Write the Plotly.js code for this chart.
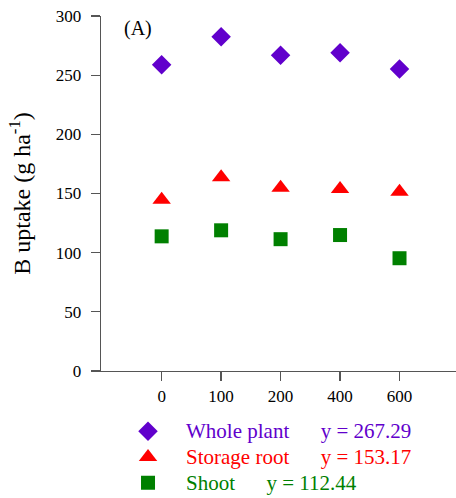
<!DOCTYPE html>
<html>
<head>
<meta charset="utf-8">
<script src="https://cdn.plot.ly/plotly-3.0.1.min.js"></script>
<style>html,body{margin:0;padding:0;background:#fff;}#chart{width:456px;height:498px;}</style>
</head>
<body>
<div id="chart"></div>
<script>
const categories = ["0", "100", "200", "400", "600"];
const wholePlant = [258.9, 282.5, 266.8, 269.0, 255.2];
const storageRoot = [144.8, 163.8, 154.9, 153.8, 151.4];
const shoot = [113.8, 118.9, 111.4, 114.9, 95.3];
const seriesNames = ["Whole plant", "Storage root", "Shoot"];
const seriesMeans = ["267.29", "153.17", "112.44"];
const yTicks = [0, 50, 100, 150, 200, 250, 300];

const purple = "#6100CC", red = "#FF0000", green = "#008000";
const nb = "\u00A0";
function legName(name, mean, color) {
  return '<span style="color:' + color + ';font-size:21px">' + name + nb + nb + nb + nb + nb + nb + 'y = ' + mean + '</span>';
}

const traces = [
  {x: categories, y: wholePlant, type: "scatter", mode: "markers", name: legName(seriesNames[0], seriesMeans[0], purple),
   marker: {symbol: "diamond", size: 15, color: purple}, cliponaxis: false},
  {x: categories, y: storageRoot, type: "scatter", mode: "markers", name: legName(seriesNames[1], seriesMeans[1], red),
   marker: {symbol: "triangle-up", size: 16, color: red}, cliponaxis: false},
  {x: categories, y: shoot, type: "scatter", mode: "markers", name: legName(seriesNames[2], seriesMeans[2], green),
   marker: {symbol: "square", size: 14, color: green}, cliponaxis: false}
];

const font = "Liberation Serif";
const layout = {
  width: 456, height: 498,
  margin: {l: 101, r: 0, t: 16, b: 127, autoexpand: false},
  paper_bgcolor: "#fff", plot_bgcolor: "#fff",
  font: {family: font, size: 17, color: "#000"},
  showlegend: true,
  legend: {x: 0.0254, xanchor: "left", y: -0.1197, yanchor: "top",
           font: {family: font, size: 17.5}, itemwidth: 66, bgcolor: "rgba(0,0,0,0)", tracegroupgap: 0},
  xaxis: {type: "category", range: [-1.02, 4.95], showgrid: false, zeroline: false,
          showline: true, linecolor: "#555", linewidth: 1.3, ticks: "outside", ticklen: 9, tickwidth: 1.3,
          tickcolor: "#555", tickfont: {family: font, size: 17}, fixedrange: true},
  yaxis: {range: [0, 300], tickvals: yTicks, showgrid: false, zeroline: false,
          showline: true, linecolor: "#555", linewidth: 1.3, ticks: "outside", ticklen: 9, tickwidth: 1.3,
          tickcolor: "#555", tickfont: {family: font, size: 17}, ticklabelstandoff: 6,
          title: {text: "B uptake (g ha<sup>-1</sup>)", font: {family: font, size: 24}, standoff: 18}, fixedrange: true},
  annotations: [{text: "(A)", xref: "paper", yref: "paper", x: 0.06, y: 0.965, xanchor: "left", yanchor: "middle",
                 showarrow: false, font: {family: font, size: 20, color: "#000"}}]
};
Plotly.newPlot("chart", traces, layout, {displayModeBar: false, staticPlot: true});
</script>
</body>
</html>
